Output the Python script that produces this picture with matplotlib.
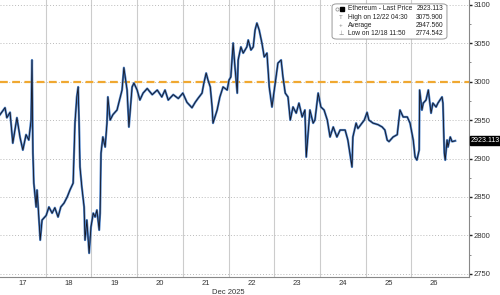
import numpy as np
import matplotlib.pyplot as plt
from matplotlib.patches import FancyBboxPatch

plt.rcParams['font.family'] = ['Liberation Sans', 'DejaVu Sans']

# day position (Dec, fractional) and price
days = [17.00, 17.11, 17.15, 17.22, 17.28, 17.37, 17.44, 17.50, 17.57, 17.63,
        17.68, 17.70, 17.72, 17.74, 17.79, 17.81, 17.83, 17.88, 17.92, 18.01,
        18.07, 18.14, 18.20, 18.27, 18.33, 18.40, 18.47, 18.53, 18.60, 18.64,
        18.68, 18.71, 18.73, 18.75, 18.79, 18.84, 18.86, 18.90, 18.95, 18.99,
        19.04, 19.08, 19.12, 19.17, 19.19, 19.21, 19.25, 19.30, 19.34, 19.36,
        19.41, 19.47, 19.56, 19.67, 19.71, 19.78, 19.82, 19.89, 19.93, 20.00,
        20.06, 20.13, 20.22, 20.33, 20.44, 20.54, 20.61, 20.68, 20.79, 20.90,
        21.00, 21.09, 21.20, 21.27, 21.33, 21.42, 21.46, 21.51, 21.55, 21.60,
        21.64, 21.66, 21.75, 21.81, 21.88, 21.97, 22.01, 22.05, 22.10, 22.14,
        22.19, 22.21, 22.27, 22.32, 22.40, 22.43, 22.49, 22.54, 22.58, 22.62,
        22.67, 22.73, 22.78, 22.84, 22.89, 22.95, 23.00, 23.04, 23.08, 23.15,
        23.19, 23.24, 23.30, 23.35, 23.41, 23.48, 23.54, 23.61, 23.67, 23.70,
        23.78, 23.85, 23.89, 23.96, 24.02, 24.09, 24.16, 24.22, 24.29, 24.37,
        24.44, 24.55, 24.61, 24.70, 24.72, 24.79, 24.83, 24.92, 24.97, 25.03,
        25.07, 25.16, 25.27, 25.36, 25.42, 25.47, 25.51, 25.60, 25.69, 25.75,
        25.82, 25.91, 25.97, 26.04, 26.08, 26.12, 26.17, 26.18, 26.23, 26.26,
        26.32, 26.37, 26.43, 26.47, 26.54, 26.58, 26.67, 26.69, 26.72, 26.74,
        26.78, 26.80, 26.85, 26.89, 26.96]
price = [2957, 2966, 2953, 2960, 2920, 2953, 2927, 2911, 2931, 2924,
         2950, 3028, 2907, 2868, 2837, 2859, 2842, 2794, 2820, 2826,
         2837, 2829, 2836, 2824, 2837, 2842, 2850, 2859, 2868, 2946,
         2980, 2993, 2946, 2889, 2863, 2837, 2794, 2820, 2777, 2811,
         2829, 2824, 2833, 2807, 2829, 2907, 2928, 2915, 2946, 2980,
         2950, 2957, 2963, 2989, 3018, 2989, 2941, 2993, 2998, 2989,
         2976, 2985, 2991, 2983, 2989, 2980, 2989, 2976, 2983, 2978,
         2985, 2973, 2966, 2973, 2978, 2985, 2998, 3011, 3002, 2993,
         2967, 2946, 2963, 2980, 2993, 2989, 3002, 3006, 3050, 3019,
         2985, 3028, 3045, 3037, 3045, 3054, 3041, 3045, 3067, 3076,
         3067, 3050, 3032, 3037, 2993, 2967, 2989, 3006, 3024, 3028,
         3006, 2985, 2980, 2950, 2967, 2959, 2972, 2954, 2963, 2902,
         2963, 2946, 2950, 2985, 2967, 2963, 2950, 2928, 2941, 2928,
         2937, 2937, 2924, 2889, 2928, 2946, 2939, 2946, 2950, 2960,
         2950, 2946, 2944, 2941, 2937, 2924, 2922, 2928, 2931, 2963,
         2954, 2954, 2946, 2924, 2902, 2898, 2911, 2989, 2963, 2972,
         2976, 2989, 2959, 2972, 2967, 2972, 2980, 2972, 2907, 2898,
         2924, 2915, 2928, 2922, 2923]

day_labels = ['17', '18', '19', '20', '21', '22', '23', '24', '25', '26']
legend_names = ['Ethereum - Last Price', 'High on 12/22 04:30', 'Average', 'Low on 12/18 11:50']
legend_values = ['2923.113', '3075.900', '2947.560', '2774.542']
last_price = 2923.113
level = 3000

fig = plt.figure(figsize=(5.0, 2.95), dpi=100)
ax = fig.add_axes([0, 0.061, 0.938, 0.939])

ymin, ymax = 2746, 3106
ax.set_xlim(17, 27.26)
ax.set_ylim(ymin, ymax)

# day separators and dotted price grid
for d in range(18, 27):
    ax.axvline(d, color='#cccccc', lw=0.8, zorder=0)
for p in range(2750, 3101, 50):
    ax.axhline(p, color='#bbbbbb', lw=0.7, ls=(0, (1, 2)), zorder=0)

ax.axhline(level, color='#f0a830', lw=1.6, ls=(0, (3.5, 2)), zorder=1)

ax.plot(days, price, color='#4a80c8', lw=1.6, zorder=2)
ax.plot(days, price, color='#151520', lw=0.6, zorder=3)

ax.yaxis.tick_right()
ax.set_yticks(np.arange(2750, 3101, 50))
ax.set_yticks(np.arange(2775, 3101, 50), minor=True)
ax.tick_params(axis='y', which='major', length=2.5, width=1, color='#222222',
               labelsize=5.5, labelcolor='#333333', pad=1)
ax.tick_params(axis='y', which='minor', length=1.5, width=0.6, color='#777777')

ax.set_xticks(np.arange(17.5, 27, 1))
ax.set_xticklabels(day_labels)
ax.tick_params(axis='x', length=0, labelsize=5.5, labelcolor='#333333', pad=2.5)

for s in ['left', 'top']:
    ax.spines[s].set_visible(False)
for s in ['right', 'bottom']:
    ax.spines[s].set_color('#888888')
    ax.spines[s].set_linewidth(0.8)

ax.text(22, -0.045, 'Dec 2025', transform=ax.get_xaxis_transform(), ha='center',
        va='top', fontsize=5.5, color='#333333')

ax.text(1.004, (last_price - ymin) / (ymax - ymin), f'{last_price:.3f}',
        transform=ax.transAxes, ha='left', va='center', fontsize=5.0, color='white',
        clip_on=False, bbox=dict(boxstyle='square,pad=0.15', fc='black', ec='black'))

# legend box
box = FancyBboxPatch((0.708, 0.859), 0.245, 0.127, boxstyle='round,pad=0,rounding_size=0.01',
                     transform=ax.transAxes, fc='white', ec='#999999', lw=0.7, zorder=5)
ax.add_patch(box)
rows_y = [0.968, 0.938, 0.908, 0.879]
icons = ['', 'T', '+', '\u22a5']
for i, y in enumerate(rows_y):
    ax.text(0.741, y, legend_names[i], transform=ax.transAxes, fontsize=4.8,
            color='#222222', va='center', ha='left', zorder=6)
    ax.text(0.945, y, legend_values[i], transform=ax.transAxes, fontsize=4.8,
            color='#222222', va='center', ha='right', zorder=6)
    if i == 0:
        ax.plot([0.729], [y], marker='s', ms=3.2, color='black', transform=ax.transAxes,
                zorder=6, clip_on=False)
        ax.plot([0.718], [y], marker='o', ms=2.3, mfc='white', mec='#999999', mew=0.6,
                transform=ax.transAxes, zorder=6, clip_on=False)
    else:
        ax.text(0.727, y, icons[i], transform=ax.transAxes, fontsize=4.5,
                color='#888888', va='center', ha='center', zorder=6)

fig.savefig('out.png', dpi=100)
